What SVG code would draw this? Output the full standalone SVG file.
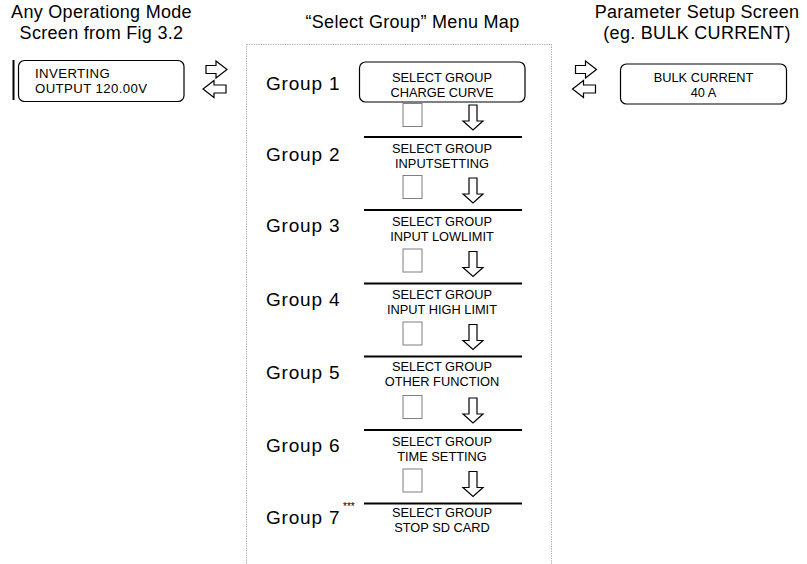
<svg xmlns="http://www.w3.org/2000/svg" width="807" height="564" viewBox="0 0 807 564">
<style>
text{font-family:"Liberation Sans",Arial,sans-serif;fill:#000}
.t{font-size:18px;letter-spacing:0.3px;text-anchor:middle}
.g{font-size:19px;letter-spacing:0.8px}
.s{font-size:12.8px;text-anchor:middle}
.l{font-size:13.2px;letter-spacing:0.4px}
.box{fill:#fff;stroke:#000;stroke-width:1.2}
.sq{fill:#fff;stroke:#7f7f7f;stroke-width:1}
.ar{fill:#fff;stroke:#000;stroke-width:1.2;stroke-linejoin:miter}
.hl{stroke:#000;stroke-width:2.2}
</style>
<defs>
<path id="da" class="ar" d="M-4,0 H4 V16 H10 L0,25 L-10,16 H-4 Z"/>
<g id="lr">
<path class="ar" d="M206,65.5 H216 V61 L227,69.5 L216,78 V73.5 H206 Z"/>
<path class="ar" d="M226,85 H214 V80.5 L203,89 L214,97.5 V93 H226 Z"/>
</g>
</defs>
<text class="t" x="101.5" y="18">Any Operationg Mode</text>
<text class="t" x="101.5" y="38.5">Screen from Fig 3.2</text>
<text class="t" x="412.5" y="28">“Select Group” Menu Map</text>
<text class="t" x="697" y="18">Parameter Setup Screen</text>
<text class="t" x="697" y="38.5">(eg. BULK CURRENT)</text>
<rect x="246.5" y="44.5" width="305" height="540" fill="none" stroke="#a6a6a6" stroke-width="1" stroke-dasharray="1.2,1.2"/>
<g id="connectors">
<use href="#lr"/>
<use href="#lr" transform="translate(369.5,0)"/>
<use href="#da" x="473" y="105"/>
<use href="#da" x="473" y="178"/>
<use href="#da" x="473" y="251.5"/>
<use href="#da" x="473" y="324.5"/>
<use href="#da" x="473" y="398"/>
<use href="#da" x="473" y="471.5"/>
<line class="hl" x1="364" y1="137" x2="522" y2="137"/>
<line class="hl" x1="364" y1="210" x2="522" y2="210"/>
<line class="hl" x1="364" y1="283.5" x2="522" y2="283.5"/>
<line class="hl" x1="364" y1="356.5" x2="522" y2="356.5"/>
<line class="hl" x1="364" y1="430" x2="522" y2="430"/>
<line class="hl" x1="364" y1="503.5" x2="522" y2="503.5"/>
</g>
<g id="inverting">
<line x1="13.5" y1="60" x2="13.5" y2="100" stroke="#000" stroke-width="2"/>
<rect class="box" x="18.5" y="60.5" width="165.5" height="41" rx="6"/>
<text class="l" x="35" y="78">INVERTING</text>
<text class="l" x="35" y="93">OUTPUT 120.00V</text>
</g>
<g id="bulk">
<rect class="box" x="620.5" y="64" width="166" height="40" rx="6"/>
<text class="s" x="703.5" y="82">BULK CURRENT</text>
<text class="s" x="703.5" y="96.5">40 A</text>
</g>
<g id="group1">
<text class="g" x="266" y="89.5">Group 1</text>
<rect class="box" x="359.5" y="62" width="165.5" height="40" rx="6"/>
<text class="s" x="442" y="82">SELECT GROUP</text>
<text class="s" x="442" y="96.5">CHARGE CURVE</text>
<rect class="sq" x="403" y="103.5" width="19" height="23"/>
</g>
<g id="group2">
<text class="g" x="266" y="161">Group 2</text>
<text class="s" x="442" y="153">SELECT GROUP</text>
<text class="s" x="442" y="168">INPUTSETTING</text>
<rect class="sq" x="403" y="175.5" width="19" height="23"/>
</g>
<g id="group3">
<text class="g" x="266" y="232">Group 3</text>
<text class="s" x="442" y="225.5">SELECT GROUP</text>
<text class="s" x="442" y="241">INPUT LOWLIMIT</text>
<rect class="sq" x="403" y="249" width="19" height="23"/>
</g>
<g id="group4">
<text class="g" x="266" y="306">Group 4</text>
<text class="s" x="442" y="298.5">SELECT GROUP</text>
<text class="s" x="442" y="313.5">INPUT HIGH LIMIT</text>
<rect class="sq" x="403" y="322" width="19" height="23"/>
</g>
<g id="group5">
<text class="g" x="266" y="378.5">Group 5</text>
<text class="s" x="442" y="371">SELECT GROUP</text>
<text class="s" x="442" y="386">OTHER FUNCTION</text>
<rect class="sq" x="403" y="395.5" width="19" height="23"/>
</g>
<g id="group6">
<text class="g" x="266" y="452">Group 6</text>
<text class="s" x="442" y="446">SELECT GROUP</text>
<text class="s" x="442" y="461">TIME SETTING</text>
<rect class="sq" x="403" y="469" width="19" height="23"/>
</g>
<g id="group7">
<text class="g" x="266" y="523.5">Group 7</text>
<text x="343" y="510" style="font-size:10px">***</text>
<text class="s" x="442" y="516.5">SELECT GROUP</text>
<text class="s" x="442" y="531.5">STOP SD CARD</text>
</g>
</svg>
